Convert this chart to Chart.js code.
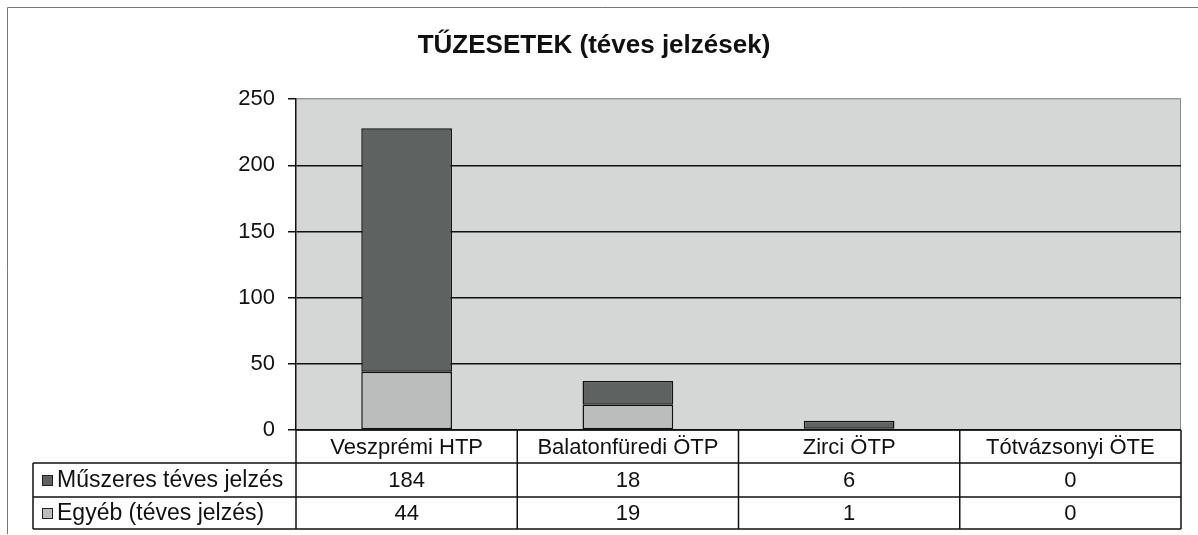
<!DOCTYPE html>
<html>
<head>
<meta charset="utf-8">
<script src="https://cdn.jsdelivr.net/npm/chart.js@4"></script>
<style>
  html, body { margin: 0; padding: 0; background: #fff; }
  #wrap { width: 1198px; height: 535px; position: relative; }
</style>
</head>
<body>
<div id="wrap"><canvas id="chart"></canvas></div>
<script>
const categories = ['Veszprémi HTP', 'Balatonfüredi ÖTP', 'Zirci ÖTP', 'Tótvázsonyi ÖTE'];
const muszeres = [184, 18, 6, 0];
const egyeb = [44, 19, 1, 0];
const yTicks = [0, 50, 100, 150, 200, 250];

const DARK = '#5e6361';
const LIGHT = '#babdbc';
const FONT = 'Arial, "Liberation Sans", sans-serif';

// plot background + outer frame
const backdrop = {
  id: 'backdrop',
  beforeDraw(chart) {
    const { ctx, chartArea: a } = chart;
    ctx.save();
    ctx.fillStyle = '#d5d6d6';
    ctx.fillRect(a.left, a.top, a.right - a.left, a.bottom - a.top);
    ctx.strokeStyle = '#777';
    ctx.lineWidth = 1;
    ctx.beginPath();
    ctx.moveTo(7.5, 534);
    ctx.lineTo(7.5, 7.5);
    ctx.lineTo(1198, 7.5);
    ctx.stroke();
    ctx.strokeStyle = '#888';
    ctx.beginPath();
    ctx.moveTo(a.right - 0.5, a.top);
    ctx.lineTo(a.right - 0.5, a.bottom);
    ctx.stroke();
    ctx.restore();
  }
};

// data table under the plot
const dataTable = {
  id: 'dataTable',
  afterDraw(chart) {
    const { ctx, chartArea: a } = chart;
    const colW = (a.right - a.left) / categories.length;
    const rows = [a.bottom, a.bottom + 33, a.bottom + 67, a.bottom + 99];
    const labelLeft = 33;
    ctx.save();
    ctx.strokeStyle = '#111';
    ctx.lineWidth = 1.5;
    ctx.beginPath();
    ctx.moveTo(a.left, rows[0]); ctx.lineTo(a.right, rows[0]);
    for (let i = 1; i < rows.length; i++) {
      ctx.moveTo(labelLeft, rows[i]); ctx.lineTo(a.right, rows[i]);
    }
    ctx.moveTo(labelLeft, rows[1]); ctx.lineTo(labelLeft, rows[3]);
    for (let i = 0; i <= categories.length; i++) {
      const x = a.left + i * colW;
      ctx.moveTo(x, rows[0]); ctx.lineTo(x, rows[3]);
    }
    ctx.stroke();

    ctx.fillStyle = '#111';
    ctx.font = '22px ' + FONT;
    ctx.textAlign = 'center';
    ctx.textBaseline = 'middle';
    categories.forEach((c, i) => {
      const cx = a.left + (i + 0.5) * colW;
      ctx.fillText(c, cx, (rows[0] + rows[1]) / 2 + 1);
      ctx.fillText(String(muszeres[i]), cx, (rows[1] + rows[2]) / 2 + 1);
      ctx.fillText(String(egyeb[i]), cx, (rows[2] + rows[3]) / 2 + 1);
    });

    const series = [['Műszeres téves jelzés', DARK], ['Egyéb (téves jelzés)', LIGHT]];
    series.forEach(([name, col], k) => {
      const cy = (rows[k + 1] + rows[k + 2]) / 2;
      ctx.fillStyle = col;
      ctx.fillRect(42, cy - 5, 11, 11);
      ctx.strokeStyle = '#222';
      ctx.lineWidth = 1;
      ctx.strokeRect(42.5, cy - 4.5, 10, 10);
      ctx.fillStyle = '#111';
      ctx.textAlign = 'left';
      ctx.font = '23px ' + FONT;
      ctx.fillText(name, 57, cy + 1);
    });
    ctx.restore();
  }
};

new Chart(document.getElementById('chart'), {
  type: 'bar',
  data: {
    labels: categories,
    datasets: [
      {
        label: 'Egyéb (téves jelzés)',
        data: egyeb,
        backgroundColor: LIGHT,
        borderColor: '#111',
        borderWidth: 1.5,
        borderSkipped: false
      },
      {
        label: 'Műszeres téves jelzés',
        data: muszeres,
        backgroundColor: DARK,
        borderColor: '#111',
        borderWidth: 1.5,
        borderSkipped: false
      }
    ]
  },
  options: {
    responsive: true,
    maintainAspectRatio: false,
    animation: false,
    categoryPercentage: 1,
    barPercentage: 0.41,
    layout: { padding: { left: 7, right: 17, top: 0, bottom: 0 } },
    plugins: {
      legend: { display: false },
      tooltip: { enabled: false },
      title: {
        display: true,
        text: 'TŰZESETEK (téves jelzések)',
        color: '#111',
        font: { family: FONT, size: 26, weight: 'bold' },
        padding: { top: 30, bottom: 38 }
      }
    },
    scales: {
      x: {
        stacked: true,
        grid: { display: false },
        border: { display: false },
        ticks: { display: false },
        afterFit(axis) { axis.height = 105; }
      },
      y: {
        stacked: true,
        min: 0,
        max: 250,
        afterBuildTicks(axis) { axis.ticks = yTicks.map(v => ({ value: v })); },
        afterFit(axis) { axis.width = 289; },
        ticks: {
          color: '#111',
          padding: 13,
          font: { family: FONT, size: 22 }
        },
        grid: {
          color: ctx => (ctx.tick && ctx.tick.value === 250 ? '#999' : '#111'),
          lineWidth: 1.5,
          drawTicks: true,
          tickLength: 8,
          tickColor: '#111'
        },
        border: { display: true, color: '#111', width: 1.5 }
      }
    }
  },
  plugins: [backdrop, dataTable]
});
</script>
</body>
</html>
